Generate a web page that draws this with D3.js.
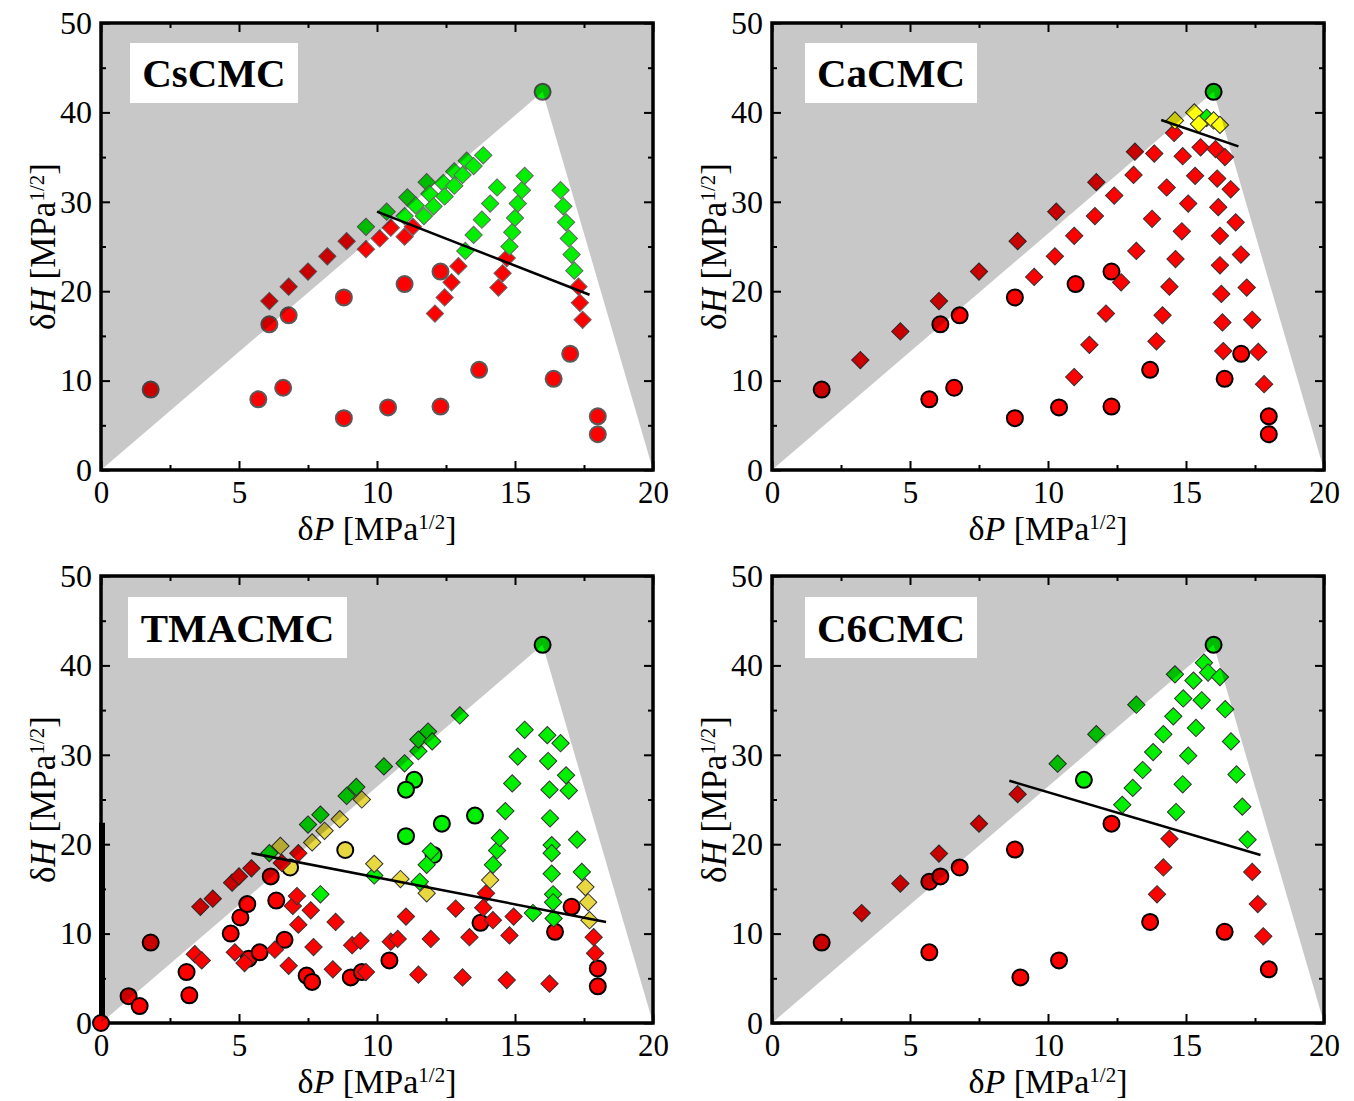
<!DOCTYPE html>
<html>
<head>
<meta charset="utf-8">
<script src="https://cdn.jsdelivr.net/npm/d3@7"></script>
<style>
  body { margin: 0; background: #fff; }
  text { font-family: "Liberation Serif", "Times New Roman", serif; fill: #000; }
</style>
</head>
<body>
<svg id="chart" width="1354" height="1101"></svg>
<script>
// ---- data: [deltaP, deltaH] in MPa^1/2 ----
var xMajor = [0, 5, 10, 15, 20];
var xMinor = [2.5, 7.5, 12.5, 17.5];
var yMajor = [0, 10, 20, 30, 40, 50];
var yMinor = [5, 15, 25, 35, 45];
var triangle = [[0, 0], [16.0, 42.3], [20, 0]];
var titles = ["CsCMC", "CaCMC", "TMACMC", "C6CMC"];

// CsCMC
var cs_circ_r = [[1.8,9.0],[5.7,7.9],[6.6,9.2],[6.1,16.3],[6.8,17.3],[8.8,19.3],[11.0,20.8],[12.3,22.2],[8.8,5.8],[10.4,7.0],[12.3,7.1],[13.7,11.2],[16.4,10.2],[17.0,13.0],[18.0,6.0],[18.0,4.0]];
var cs_circ_g = [[16.0,42.3]];
var cs_diam_r = [[6.1,18.9],[6.8,20.5],[7.5,22.2],[8.2,23.9],[8.9,25.6],[9.6,24.7],[10.1,25.9],[10.5,27.1],[11.0,26.1],[11.3,27.2],
  [12.1,17.5],[12.45,19.3],[12.7,21.0],[12.95,22.8],[14.4,20.4],[14.55,22.0],[14.7,23.7],[17.3,20.5],[17.35,18.7],[17.45,16.8]];
var cs_diam_g = [[9.6,27.2],[10.35,28.9],[11.0,28.4],[11.1,30.5],[11.4,29.6],[11.7,28.4],[11.8,32.2],[11.9,30.9],[12.05,29.5],[12.4,32.1],
  [12.45,30.6],[12.8,33.4],[12.8,31.8],[13.1,33.0],[13.25,34.6],[13.5,34.0],[13.85,35.2],
  [13.2,24.5],[13.5,26.3],[13.8,28.0],[14.1,29.8],[14.35,31.6],
  [14.8,25.0],[14.9,26.6],[15.0,28.2],[15.1,29.8],[15.25,31.3],[15.35,32.9],
  [16.65,31.3],[16.75,29.5],[16.85,27.7],[16.95,25.9],[17.05,24.1],[17.15,22.3]];
var cs_diam_y = [];
var cs_fit = [[10.0,28.9],[17.7,19.6]];

// CaCMC
var ca_circ_r = cs_circ_r;
var ca_circ_g = [[16.0,42.3]];
var ca_diam_r = [[3.2,12.3],[4.65,15.5],[6.05,18.9],[7.5,22.2],[8.9,25.6],[10.3,28.9],[11.75,32.2],[13.15,35.6],
  [9.5,21.6],[10.25,23.9],[10.95,26.2],[11.7,28.4],[12.4,30.7],[13.1,33.0],[13.85,35.4],[14.57,37.7],
  [10.95,10.4],[11.5,14.0],[12.1,17.5],[12.65,21.0],[13.2,24.5],[13.77,28.1],[14.3,31.6],[14.88,35.1],
  [13.93,14.4],[14.15,17.3],[14.4,20.5],[14.62,23.6],[14.85,26.7],[15.08,29.8],[15.33,32.9],[15.53,36.1],
  [16.35,13.3],[16.32,16.5],[16.28,19.7],[16.23,22.9],[16.23,26.2],[16.17,29.4],[16.13,32.6],[16.07,35.9],
  [17.83,9.6],[17.62,13.2],[17.4,16.8],[17.2,20.4],[16.99,24.1],[16.8,27.7],[16.62,31.4],[16.41,35.0]];
var ca_diam_g = [[15.75,39.4]];
var ca_diam_y = [[14.6,39.1],[15.3,40.0],[15.47,38.7],[16.0,39.1],[16.23,38.6]];
var ca_fit = [[14.1,39.15],[16.9,36.2]];

// TMACMC
var tma_circ_r = [[0,0],[1.0,3.0],[1.4,1.9],[1.8,9.0],[3.1,5.7],[3.2,3.1],[4.7,10.0],[5.05,11.8],[5.3,13.3],[5.35,7.2],[5.75,7.9],
  [6.15,16.4],[6.35,13.7],[6.65,9.3],[7.45,5.3],[7.65,4.6],[9.05,5.1],[9.45,5.7],[10.45,7.0],[13.75,11.2],[16.45,10.2],[17.05,13.0],[18.0,6.1],[18.0,4.1]];
var tma_circ_y = [[6.85,17.4],[8.85,19.35]];
var tma_circ_g = [[11.35,27.2],[11.05,26.1],[11.05,20.9],[12.35,22.3],[13.55,23.2],[12.05,18.8],[16.0,42.3]];
var tma_diam_r = [[3.6,13.0],[4.05,13.9],[4.75,15.7],[5.0,16.4],[5.45,17.3],[6.55,17.9],[7.15,19.0],
  [3.4,7.7],[3.65,7.0],[4.85,7.9],[5.2,6.7],[6.3,8.2],[6.8,6.4],[6.95,13.1],[7.1,14.2],[7.6,12.6],[7.15,11.0],[7.7,8.5],[8.4,6.0],
  [8.5,11.3],[9.1,8.7],[9.4,9.2],[9.6,5.7],[10.5,9.1],[10.75,9.4],[11.05,11.9],[11.95,9.4],[11.5,5.4],[12.85,12.8],[13.35,9.6],
  [13.1,5.1],[13.95,14.5],[13.85,12.9],[14.2,11.5],[14.95,11.9],[14.8,9.8],[14.7,4.8],[16.25,4.4],[17.85,9.6],[17.9,7.8]];
var tma_diam_g = [[6.1,19.0],[7.5,22.2],[7.95,23.3],[8.9,25.4],[9.25,26.4],[10.25,28.7],[11.0,29.05],[11.5,30.4],[11.5,31.7],[11.85,32.6],[12.0,31.5],[13.0,34.4],
  [7.95,14.4],[9.9,16.5],[11.55,15.8],[11.8,17.7],[11.95,19.2],
  [14.2,17.7],[14.35,19.3],[14.45,20.7],[14.65,23.7],[14.9,26.8],[15.1,29.8],[15.35,32.8],
  [16.17,32.2],[16.2,29.3],[16.25,26.1],[16.27,22.9],[16.33,19.9],[16.33,19.0],[16.33,16.7],[16.38,14.4],[16.38,13.5],[16.4,11.7],
  [16.65,31.3],[16.85,27.7],[16.95,26.0],[17.25,20.5],[17.42,16.9],[15.65,12.3]];
var tma_diam_y = [[6.5,19.8],[7.65,20.2],[8.1,21.5],[8.65,22.8],[9.45,25.0],[9.9,17.8],[10.85,16.1],[11.8,14.5],[14.1,16.0],[17.55,15.2],[17.65,13.5],[17.7,11.5]];
var tma_fit = [[5.45,19.0],[18.3,11.3]];
var tma_bar = [[0,0],[0,22.4]];

// C6CMC
var c6_circ_r = [[1.8,9.0],[5.7,7.9],[5.7,15.8],[6.1,16.4],[6.8,17.4],[8.8,19.4],[9.0,5.1],[10.4,7.0],[12.3,22.3],[13.7,11.3],[16.4,10.2],[18.0,6.0]];
var c6_circ_g = [[11.3,27.2],[16.0,42.3]];
var c6_diam_r = [[3.25,12.3],[4.65,15.6],[6.05,18.95],[7.5,22.3],[8.9,25.6],[13.95,14.4],[14.18,17.4],[14.4,20.6],[17.4,16.9],[17.6,13.3],[17.8,9.7]];
var c6_diam_g = [[10.35,29.0],[11.75,32.3],[13.2,35.6],[14.6,39.0],[15.65,40.3],[15.8,39.2],[16.23,38.7],[15.27,38.3],[14.9,36.3],[15.57,36.1],
  [16.42,35.1],[14.54,34.3],[15.36,33.0],[14.18,32.3],[16.63,31.5],[13.81,30.3],[15.08,29.9],[13.43,28.3],[16.83,27.8],[13.07,26.3],
  [14.88,26.7],[12.69,24.4],[14.64,23.6],[17.04,24.2],[17.23,20.5]];
var c6_fit = [[8.6,27.1],[17.7,18.8]];

// ---- layout ----
var W = 552, H = 447;
var panels = [
  {title: titles[0], left: 101, top: 23, box: [29, 20, 168, 60], yel: "#ffff10", cStroke: "#5a5a5a", dStroke: "#666",
   circles: {r: cs_circ_r, g: cs_circ_g, y: []}, diamonds: {r: cs_diam_r, g: cs_diam_g, y: cs_diam_y}, fit: cs_fit},
  {title: titles[1], left: 772, top: 23, box: [33, 20, 172, 60], yel: "#ffff10", cStroke: "#000", dStroke: "#333",
   circles: {r: ca_circ_r, g: ca_circ_g, y: []}, diamonds: {r: ca_diam_r, g: ca_diam_g, y: ca_diam_y}, fit: ca_fit},
  {title: titles[2], left: 101, top: 576, box: [27, 21, 219, 61], yel: "#e8d840", cStroke: "#000", dStroke: "#333",
   circles: {r: tma_circ_r, g: tma_circ_g, y: tma_circ_y}, diamonds: {r: tma_diam_r, g: tma_diam_g, y: tma_diam_y}, fit: tma_fit, bar: tma_bar},
  {title: titles[3], left: 772, top: 576, box: [33, 21, 172, 61], yel: "#e8d840", cStroke: "#000", dStroke: "#333",
   circles: {r: c6_circ_r, g: c6_circ_g, y: []}, diamonds: {r: c6_diam_r, g: c6_diam_g, y: []}, fit: c6_fit}
];
var fillOf = {r: "#ff0000", g: "#00f000"};

var svg = d3.select("#chart");
var x = d3.scaleLinear().domain([0, 20]).range([0, W]);
var y = d3.scaleLinear().domain([0, 50]).range([H, 0]);
var diamond = d3.symbol().type(d3.symbolSquare).size(150);

function styleAxis(g, size) {
  g.select(".domain").remove();
  g.selectAll(".tick line").attr("stroke", "#000").attr("stroke-width", 2);
  g.selectAll(".tick text").style("font-size", size + "px");
}

function addTitle(sel, base) {
  sel.append("tspan").text("\u03b4");
  sel.append("tspan").attr("font-style", "italic").text(base);
  sel.append("tspan").text(" [MPa");
  sel.append("tspan").attr("dy", -11.5).style("font-size", "21px").text("1/2");
  sel.append("tspan").attr("dy", 11.5).text("]");
}

panels.forEach(function(p) {
  var g = svg.append("g").attr("transform", "translate(" + p.left + "," + p.top + ")");

  g.append("rect").attr("width", W).attr("height", H).attr("fill", "#fff");

  // ticks (inward, all four sides)
  g.append("g").attr("transform", "translate(0," + H + ")")
    .call(d3.axisBottom(x).tickValues(xMajor).tickSize(-9).tickPadding(11).tickFormat(d3.format("d")))
    .call(styleAxis, 31);
  g.append("g").attr("transform", "translate(0," + H + ")")
    .call(d3.axisBottom(x).tickValues(xMinor).tickSize(-5).tickFormat(""))
    .call(styleAxis, 31);
  g.append("g")
    .call(d3.axisTop(x).tickValues(xMajor).tickSize(-9).tickFormat(""))
    .call(styleAxis, 31);
  g.append("g")
    .call(d3.axisTop(x).tickValues(xMinor).tickSize(-5).tickFormat(""))
    .call(styleAxis, 31);
  g.append("g")
    .call(d3.axisLeft(y).tickValues(yMajor).tickSize(-9).tickPadding(9).tickFormat(d3.format("d")))
    .call(styleAxis, 32);
  g.append("g")
    .call(d3.axisLeft(y).tickValues(yMinor).tickSize(-5).tickFormat(""))
    .call(styleAxis, 32);
  g.append("g").attr("transform", "translate(" + W + ",0)")
    .call(d3.axisRight(y).tickValues(yMajor).tickSize(-9).tickFormat(""))
    .call(styleAxis, 32);
  g.append("g").attr("transform", "translate(" + W + ",0)")
    .call(d3.axisRight(y).tickValues(yMinor).tickSize(-5).tickFormat(""))
    .call(styleAxis, 32);

  g.append("rect").attr("width", W).attr("height", H)
    .attr("fill", "none").attr("stroke", "#000").attr("stroke-width", 3.5);

  if (p.bar) {
    g.append("line")
      .attr("x1", x(p.bar[0][0]) + 1).attr("x2", x(p.bar[1][0]) + 1)
      .attr("y1", y(p.bar[0][1])).attr("y2", y(p.bar[1][1]))
      .attr("stroke", "#000").attr("stroke-width", 6);
  }

  // solvents (circles)
  ["r", "y", "g"].forEach(function(k) {
    g.append("g").selectAll("circle").data(p.circles[k]).join("circle")
      .attr("cx", function(d) { return x(d[0]); })
      .attr("cy", function(d) { return y(d[1]); })
      .attr("r", 8)
      .attr("fill", k === "y" ? p.yel : fillOf[k])
      .attr("stroke", p.cStroke).attr("stroke-width", 2);
  });

  // mixtures (diamonds)
  ["r", "g", "y"].forEach(function(k) {
    g.append("g").selectAll("path").data(p.diamonds[k]).join("path")
      .attr("d", diamond)
      .attr("transform", function(d) { return "translate(" + x(d[0]) + "," + y(d[1]) + ") rotate(45)"; })
      .attr("fill", k === "y" ? p.yel : fillOf[k])
      .attr("stroke", p.dStroke).attr("stroke-width", 1);
  });

  g.append("path").datum(p.fit)
    .attr("d", d3.line().x(function(d) { return x(d[0]); }).y(function(d) { return y(d[1]); }))
    .attr("stroke", "#000").attr("stroke-width", 2.5).attr("fill", "none");

  // shaded region outside the triangle
  var tri = triangle.map(function(d) { return [x(d[0]), y(d[1])]; });
  var shade = "M0,0H" + W + "V" + H + "H0Z M" + tri.map(function(d) { return d.join(","); }).join("L") + "Z";
  g.append("path").attr("d", shade).attr("fill", "#000").attr("fill-opacity", 0.215).attr("fill-rule", "evenodd");

  // name box
  g.append("rect").attr("x", p.box[0]).attr("y", p.box[1]).attr("width", p.box[2]).attr("height", p.box[3]).attr("fill", "#fff");
  g.append("text").attr("x", p.box[0] + p.box[2] / 2).attr("y", p.box[1] + p.box[3] / 2 + 14)
    .attr("text-anchor", "middle").style("font-size", "41px").style("font-weight", "bold").text(p.title);

  // axis titles
  g.append("text").attr("x", W / 2).attr("y", H + 70).attr("text-anchor", "middle")
    .style("font-size", "34px").call(addTitle, "P");
  g.append("text").attr("transform", "translate(-46," + (H / 2) + ") rotate(-90)").attr("text-anchor", "middle")
    .style("font-size", "35px").call(addTitle, "H");
});
</script>
</body>
</html>
